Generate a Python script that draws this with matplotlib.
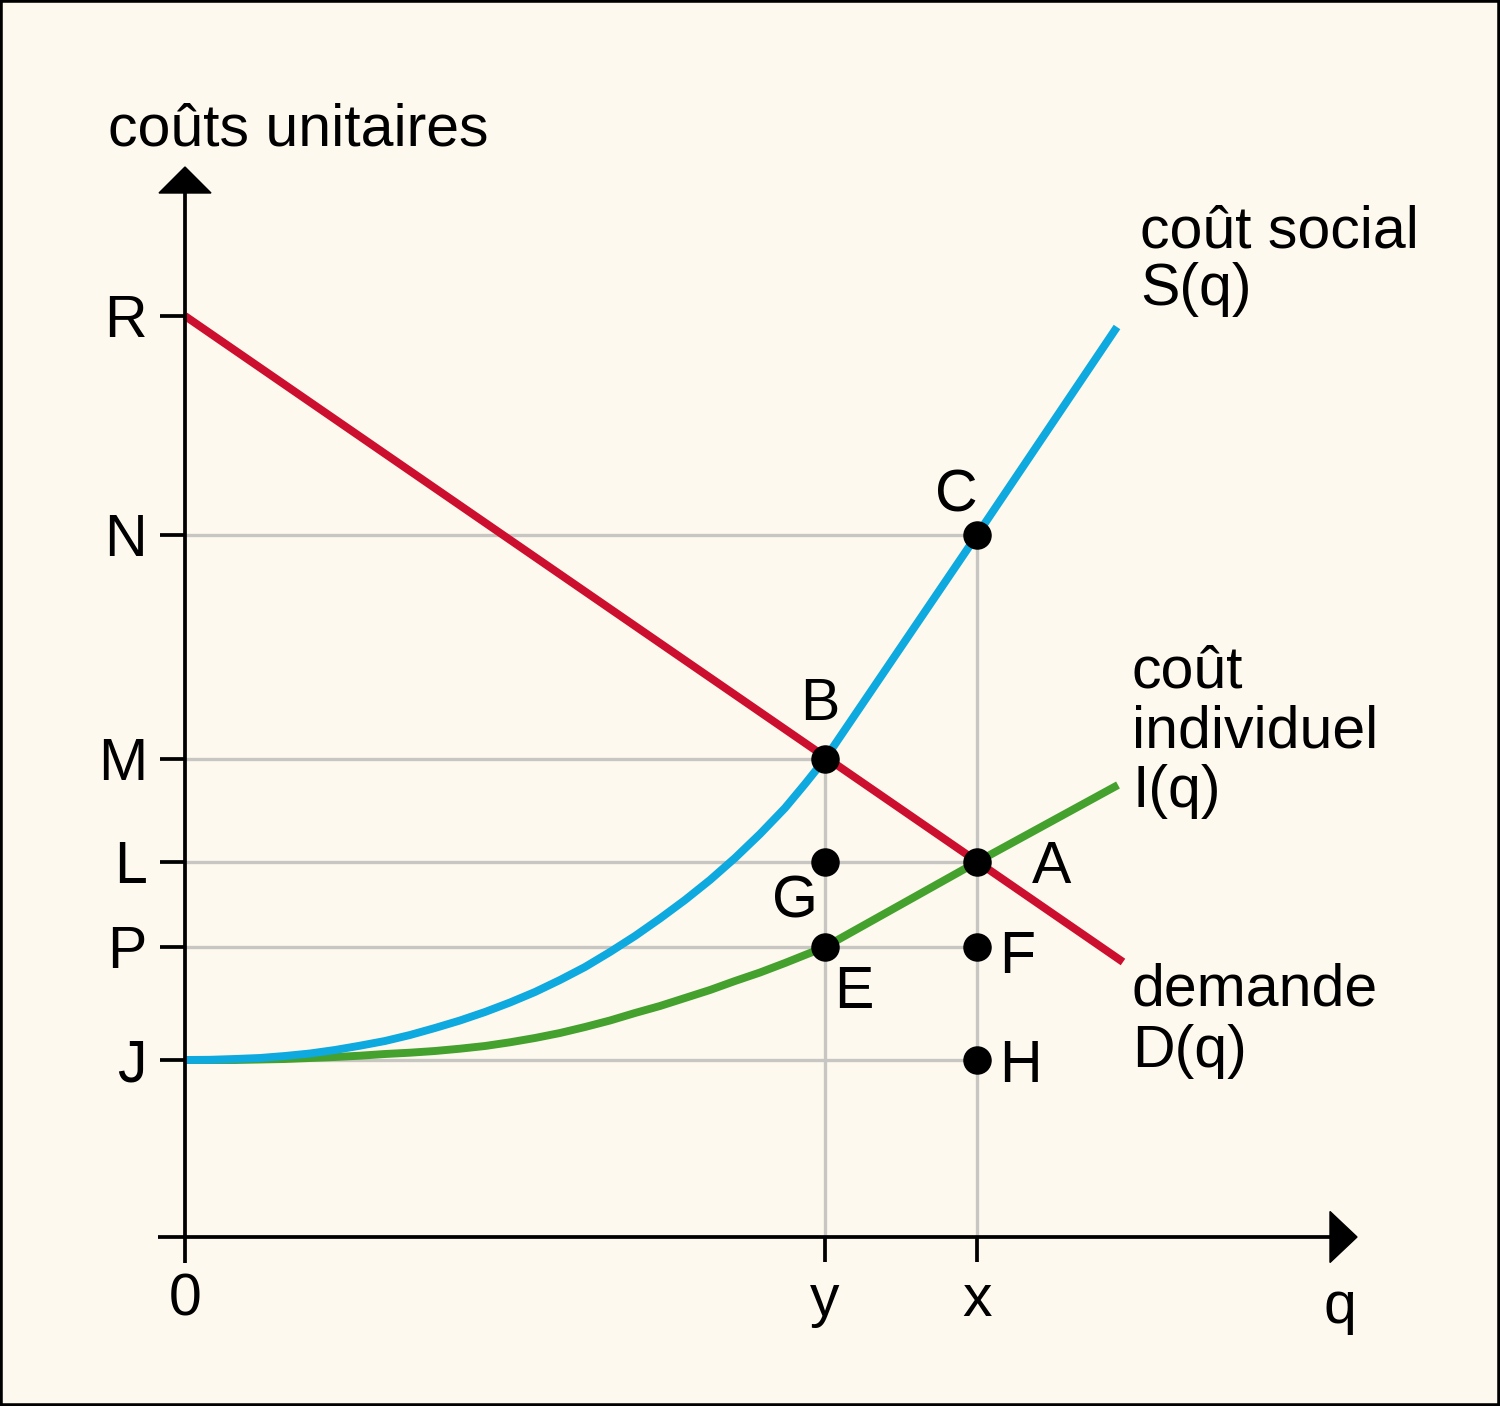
import matplotlib
matplotlib.use("Agg")
import matplotlib.pyplot as plt
from matplotlib.patches import Polygon, Rectangle

# ---------------- data (units: quantity q, unit cost) ----------------
level_names = ["R", "N", "M", "L", "P", "J"]
level_values = [9.21, 7.02, 4.78, 3.75, 2.90, 1.77]
R, N, M, L, P, J = level_values

q_names = ["0", "y", "x"]
q_values = [0.0, 6.40, 7.92]
q_y, q_x = q_values[1], q_values[2]

# demand D(q): straight line
demand_q = [0.0, 9.38]
demand_c = [9.21, 2.75]

# social cost S(q)
social_q = [0.0, 0.25, 0.5, 0.75, 1.0, 1.25, 1.5, 1.75, 2.0, 2.25, 2.5, 2.75,
            3.0, 3.25, 3.5, 3.75, 4.0, 4.25, 4.5, 4.75, 5.0, 5.25, 5.5, 5.75,
            6.0, 6.2, 6.4, 7.92, 9.32]
social_c = [1.77, 1.772, 1.78, 1.79, 1.81, 1.835, 1.87, 1.913, 1.96, 2.02, 2.09, 2.165,
            2.25, 2.345, 2.45, 2.57, 2.70, 2.85, 3.01, 3.185, 3.37, 3.57, 3.79, 4.03,
            4.29, 4.53, 4.78, 7.02, 9.10]

# individual cost I(q)
indiv_q = [0.0, 0.5, 1.0, 1.25, 1.5, 1.75, 2.0, 2.25, 2.5, 2.75, 3.0, 3.25,
           3.5, 3.75, 4.0, 4.25, 4.5, 4.75, 5.0, 5.25, 5.5, 5.75, 6.0, 6.2,
           6.4, 7.92, 9.33]
indiv_c = [1.77, 1.77, 1.78, 1.79, 1.80, 1.813, 1.83, 1.843, 1.86, 1.883, 1.91, 1.947,
           1.99, 2.04, 2.10, 2.165, 2.24, 2.31, 2.39, 2.47, 2.56, 2.645, 2.74, 2.82,
           2.90, 3.75, 4.52]

# labelled points
point_names = ["B", "C", "A", "G", "E", "F", "H"]
point_q = [q_y, q_x, q_x, q_y, q_y, q_x, q_x]
point_c = [M, N, L, L, P, P, J]

# ---------------- styling ----------------
BG = "#fdf9ee"
RED = "#cc0f2e"
BLUE = "#0ea9df"
GREEN = "#45a12d"
GRID = "#c8c6c2"
FONT = "Liberation Sans"
FS = 42.5

plt.rcParams["font.family"] = [FONT, "DejaVu Sans"]

fig = plt.figure(figsize=(15, 14.06), dpi=100, facecolor=BG)
ax = fig.add_axes([0, 0, 1, 1])
ax.set_facecolor(BG)
ax.set_xlim(-1.85, 13.15)
ax.set_ylim(-1.69, 12.37)
ax.axis("off")

# border
fig.patches.append(Rectangle((0, 0), 1, 1, transform=fig.transFigure,
                             fill=False, edgecolor="black", linewidth=4, zorder=10))

# guide lines (grey)
gl = dict(color=GRID, lw=2.4, zorder=1, solid_capstyle="butt")
ax.plot([0, q_x], [N, N], **gl)
ax.plot([0, q_y], [M, M], **gl)
ax.plot([0, q_x], [L, L], **gl)
ax.plot([0, q_x], [P, P], **gl)
ax.plot([0, q_x], [J, J], **gl)
ax.plot([q_y, q_y], [0, M], **gl)
ax.plot([q_x, q_x], [0, N], **gl)

# axes
axl = dict(color="black", lw=2.7, zorder=4, solid_capstyle="butt")
ax.plot([-0.27, 11.46], [0, 0], **axl)
ax.plot([0, 0], [-0.26, 10.45], **axl)
ax.add_patch(Polygon([[11.45, 0.255], [11.72, 0.0], [11.45, -0.255]],
                     closed=True, color="black", zorder=4))
ax.add_patch(Polygon([[-0.26, 10.44], [0.0, 10.70], [0.26, 10.44]],
                     closed=True, color="black", zorder=4))

# ticks
for v in level_values:
    ax.plot([-0.25, 0], [v, v], **axl)
for v in q_values[1:]:
    ax.plot([v, v], [0, -0.25], **axl)

# curves
cl = dict(lw=5.7, zorder=3, solid_capstyle="butt", solid_joinstyle="round")
ax.plot(demand_q, demand_c, color=RED, **cl)
ax.plot(indiv_q, indiv_c, color=GREEN, **cl)
ax.plot(social_q, social_c, color=BLUE, **cl)

# points
ax.plot(point_q, point_c, "o", color="black", ms=19.5, zorder=6, mec="black")

# point labels (offsets in data units)
offsets = {"B": (-0.05, 0.39), "C": (-0.21, 0.23), "A": (0.75, -0.21),
           "G": (-0.30, -0.55), "E": (0.29, -0.61), "F": (0.40, -0.26),
           "H": (0.43, -0.22)}
for name, qq, cc in zip(point_names, point_q, point_c):
    dx, dy = offsets[name]
    ax.text(qq + dx, cc + dy, name, fontsize=FS, ha="center", va="baseline",
            zorder=7)

# level labels
for name, v in zip(level_names, level_values):
    ax.text(-0.38, v - 0.21, name, fontsize=FS, ha="right", va="baseline")

# quantity labels
for name, v in zip(q_names, q_values):
    ax.text(v, -0.79, name, fontsize=FS, ha="center", va="baseline")
ax.text(11.55, -0.86, "q", fontsize=FS, ha="center", va="baseline")

# axis title
ax.text(-0.77, 10.91, "coûts unitaires", fontsize=FS, ha="left", va="baseline")

# curve labels
ax.text(9.55, 9.90, "coût social", fontsize=FS, ha="left", va="baseline")
ax.text(9.55, 9.32, "S(q)", fontsize=FS, ha="left", va="baseline")
ax.text(9.47, 5.50, "coût", fontsize=FS, ha="left", va="baseline")
ax.text(9.47, 4.90, "individuel", fontsize=FS, ha="left", va="baseline")
ax.text(9.47, 4.30, "I(q)", fontsize=FS, ha="left", va="baseline")
ax.text(9.47, 2.32, "demande", fontsize=FS, ha="left", va="baseline")
ax.text(9.47, 1.70, "D(q)", fontsize=FS, ha="left", va="baseline")

fig.savefig("out.png", dpi=100, facecolor=BG)
